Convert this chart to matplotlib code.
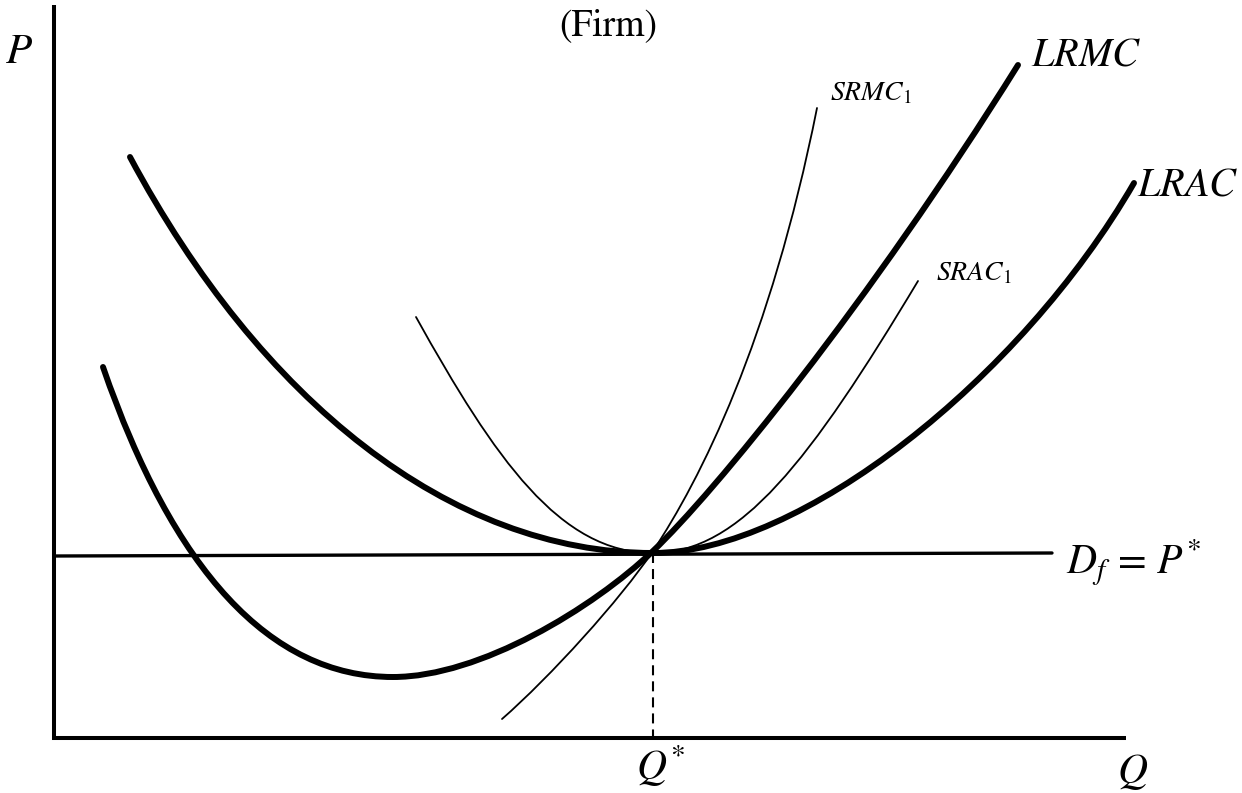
import matplotlib
matplotlib.use('Agg')
import matplotlib.pyplot as plt
from matplotlib.path import Path
from matplotlib.patches import PathPatch

plt.rcParams['mathtext.fontset'] = 'stix'
plt.rcParams['font.family'] = ['STIXGeneral', 'DejaVu Serif']

# Curves as cubic Bezier control points
# (pixel coordinates, y grows downward): start, then 3 points per piece
lrac_x = [130, 260, 450, 653, 800, 1020, 1134]
lrac_y = [157, 400, 553, 553, 553, 380, 183]

lrmc_x = [103, 173, 270, 393, 480, 593, 653, 713, 868, 1018]
lrmc_y = [367, 570, 677, 677, 677, 608, 551, 494, 305, 65]

srmc_x = [502, 550, 620, 653, 700, 770, 817]
srmc_y = [719, 677, 600, 551, 480, 343, 108]

srac_x = [416, 495, 560, 653, 740, 810, 918]
srac_y = [317, 459, 553, 553, 553, 461, 281]

# axes, demand line and Q* marker
axis_x = [54, 54, 1126]
axis_y = [5, 738, 738]
demand_x = [54, 1052]
demand_y = [556, 553]
q_star = 653
p_star = 553


def bezier_path(xs, ys):
    verts = list(zip(xs, ys))
    codes = [Path.MOVETO] + [Path.CURVE4] * (len(verts) - 1)
    return Path(verts, codes)


fig = plt.figure(figsize=(12.42, 7.93), dpi=100)
ax = fig.add_axes([0, 0, 1, 1])
ax.set_xlim(0, 1242)
ax.set_ylim(793, 0)
ax.axis('off')

# axes
ax.plot(axis_x, axis_y, color='black', lw=2.9, solid_joinstyle='miter', solid_capstyle='butt')

# demand line and dashed drop line
ax.plot(demand_x, demand_y, color='black', lw=2.4, solid_capstyle='round')
ax.plot([q_star, q_star], [p_star, axis_y[1]], color='black', lw=1.5, dashes=(4.8, 2.9))

# curves
for xs, ys, lw in [(lrac_x, lrac_y, 4.3), (lrmc_x, lrmc_y, 4.3),
                   (srmc_x, srmc_y, 1.3), (srac_x, srac_y, 1.3)]:
    ax.add_patch(PathPatch(bezier_path(xs, ys), facecolor='none', edgecolor='black',
                           lw=lw, capstyle='round', joinstyle='round'))

# labels
ax.text(608, 26, '(Firm)', fontsize=27, ha='center', va='center', family='STIXGeneral')
ax.text(5, 63, r'$P$', fontsize=31, ha='left', va='baseline')
ax.text(1031, 65, r'$LRMC$', fontsize=29, ha='left', va='baseline')
ax.text(1137, 195, r'$LRAC$', fontsize=29, ha='left', va='baseline')
ax.text(830, 100, r'$SRMC_{\mathrm{1}}$', fontsize=20, ha='left', va='baseline')
ax.text(936, 280, r'$SRAC_{\mathrm{1}}$', fontsize=20, ha='left', va='baseline')
ax.text(1066, 574, r'$D_f\,=\,P^{*}$', fontsize=30, ha='left', va='baseline')
ax.text(636, 780, r'$Q^{*}$', fontsize=30, ha='left', va='baseline')
ax.text(1117, 783, r'$Q$', fontsize=30, ha='left', va='baseline')

fig.savefig('out.png', dpi=100, facecolor='white')
